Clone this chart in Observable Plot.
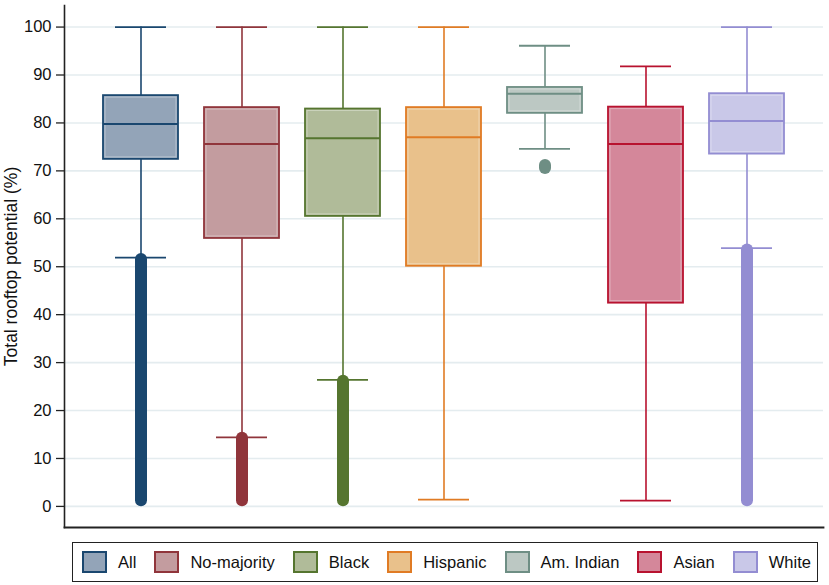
<!DOCTYPE html>
<html>
<head>
<meta charset="utf-8">
<script src="https://cdn.jsdelivr.net/npm/d3@7"></script>
<script src="https://cdn.jsdelivr.net/npm/@observablehq/plot@0.6"></script>
<style>
  html, body { margin: 0; padding: 0; background: #fff; }
  body { width: 829px; height: 585px; overflow: hidden; font-family: "Liberation Sans", Arial, sans-serif; }
  #legend {
    position: absolute; left: 72px; top: 542px; width: 746px; height: 40px;
    box-sizing: border-box; border: 1.3px solid #222;
    display: flex; align-items: center; justify-content: space-between;
    padding: 0 6px 0 9px; font-size: 16.5px; color: #111;
  }
  .item { display: flex; align-items: center; }
  .sw { width: 21px; height: 18px; border: 2px solid; margin-right: 11px; }
</style>
</head>
<body>
<div id="chart"></div>
<div id="legend"></div>
<script>
// ---- data ----
const groups = ["All", "No-majority", "Black", "Hispanic", "Am. Indian", "Asian", "White"];
const lowerWhisker = [51.9, 14.4, 26.4, 1.4, 74.6, 1.2, 53.9];
const q1 = [72.4, 55.9, 60.5, 50.1, 82.0, 42.4, 73.5];
const median = [79.8, 75.6, 76.8, 77.0, 86.1, 75.6, 80.4];
const q3 = [85.7, 83.2, 82.9, 83.2, 87.4, 83.3, 86.1];
const upperWhisker = [100, 100, 100, 100, 96.1, 91.8, 100];
const outlierLow = [1.2, 1.2, 1.2, null, 70.5, null, 1.2];
const outlierHigh = [51.5, 14.2, 26.1, null, 71.1, null, 53.5];
const lineColors = ["#1a476f", "#90353b", "#55752f", "#e07b24", "#6e8e84", "#b8122f", "#938dd2"];
const fillColors = ["#93a4b8", "#c39c9f", "#b0bb99", "#e9c18b", "#bcc8c3", "#d4879a", "#c9c8e8"];
const yTicks = [0, 10, 20, 30, 40, 50, 60, 70, 80, 90, 100];
const yLabel = "Total rooftop potential (%)";

const rows = groups.map((g, i) => ({
  group: g, lo: lowerWhisker[i], q1: q1[i], med: median[i], q3: q3[i], hi: upperWhisker[i],
  oLo: outlierLow[i], oHi: outlierHigh[i], color: lineColors[i], fill: fillColors[i]
}));
const outRows = rows.filter(d => d.oLo != null);

const plot = Plot.plot({
  width: 829,
  height: 535,
  marginTop: 5,
  marginBottom: 8,
  marginLeft: 64,
  marginRight: 6,
  style: { fontFamily: "Liberation Sans, Arial, sans-serif", fontSize: "16px", color: "#111", background: "#fff" },
  x: { domain: groups, paddingInner: 0.26, paddingOuter: 0.37, axis: null },
  y: { domain: [-4.4, 104.5] },
  color: { type: "identity" },
  marks: [
    Plot.gridY(yTicks, { stroke: "#e4ecef", strokeOpacity: 1, strokeWidth: 1.6 }),
    Plot.axisY(yTicks, { tickSize: 8, tickPadding: 5, label: null, stroke: "#222", strokeWidth: 1.3, fontSize: 16.5 }),
    Plot.frame({ anchor: "left", stroke: "#222", strokeWidth: 1.6 }),
    Plot.frame({ anchor: "bottom", stroke: "#222", strokeWidth: 1.8 }),
    Plot.text([yLabel], { frameAnchor: "left", textAnchor: "middle", rotate: -90, dx: -53, fontSize: 17.5, fill: "#111" }),
    // whiskers
    Plot.ruleX(rows, { x: "group", y1: "q3", y2: "hi", stroke: "color", strokeWidth: 1.6 }),
    Plot.ruleX(rows, { x: "group", y1: "lo", y2: "q1", stroke: "color", strokeWidth: 1.6 }),
    Plot.tickY(rows, { x: "group", y: "hi", stroke: "color", strokeWidth: 1.8, insetLeft: 12, insetRight: 12 }),
    Plot.tickY(rows, { x: "group", y: "lo", stroke: "color", strokeWidth: 1.8, insetLeft: 12, insetRight: 12 }),
    // outliers (dense markers)
    Plot.ruleX(outRows, { x: "group", y1: "oLo", y2: "oHi", stroke: "color", strokeWidth: 12, strokeLinecap: "round" }),
    // boxes
    Plot.barY(rows, { x: "group", y1: "q1", y2: "q3", fill: "fill", stroke: "color", strokeWidth: 1.8 }),
    Plot.barY(rows, { x: "group", y1: "q1", y2: "q3", fill: "none", stroke: "#ffffff", strokeOpacity: 0.35, strokeWidth: 1, insetLeft: 2, insetRight: 2, insetTop: 2, insetBottom: 2 }),
    Plot.tickY(rows, { x: "group", y: "med", stroke: "color", strokeWidth: 2 })
  ]
});
document.getElementById("chart").appendChild(plot);

const legend = document.getElementById("legend");
groups.forEach((g, i) => {
  const item = document.createElement("div");
  item.className = "item";
  const sw = document.createElement("div");
  sw.className = "sw";
  sw.style.borderColor = lineColors[i];
  sw.style.background = fillColors[i];
  const t = document.createElement("span");
  t.textContent = g;
  item.appendChild(sw); item.appendChild(t);
  legend.appendChild(item);
});
</script>
</body>
</html>
